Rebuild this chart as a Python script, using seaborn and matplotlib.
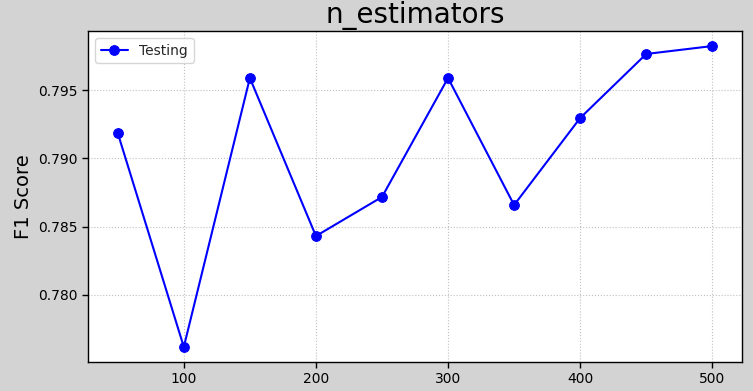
import matplotlib
matplotlib.use("Agg")
import matplotlib.pyplot as plt
import seaborn as sns
import pandas as pd

n_estimators = [50, 100, 150, 200, 250, 300, 350, 400, 450, 500]
f1_testing = [0.79185, 0.77619, 0.79588, 0.78431, 0.78717, 0.79588, 0.78658, 0.79295, 0.79764, 0.79822]

sns.set_theme(style="white")
plt.rcParams['font.family'] = ['DejaVu Sans']

df = pd.DataFrame({"n_estimators": n_estimators, "F1": f1_testing})

fig = plt.figure(figsize=(7.53, 3.91), dpi=100, facecolor="#d3d3d3")
ax = fig.add_axes([0.1169, 0.0742, 0.8685, 0.8465])
ax.set_facecolor("white")
sns.lineplot(data=df, x="n_estimators", y="F1", marker="o", color="blue",
             markersize=7, markeredgecolor="blue", linewidth=1.5, label="Testing", ax=ax)
ax.set_title("n_estimators", fontsize=20, color="black")
ax.set_xlabel("")
ax.set_ylabel("F1 Score", fontsize=14, color="black")
ax.set_xticks([100, 200, 300, 400, 500])
ax.set_yticks([0.780, 0.785, 0.790, 0.795])
ax.yaxis.set_major_formatter(matplotlib.ticker.FormatStrFormatter("%.3f"))
ax.tick_params(axis="both", direction="out", length=4, width=1, colors="black", labelsize=10,
               bottom=True, left=True)
ax.grid(True, linestyle=":", color="#c0c0c0", linewidth=0.8)
for s in ax.spines.values():
    s.set_color("black")
    s.set_linewidth(1)
ax.legend(loc="upper left", fontsize=10, frameon=True)
fig.savefig("out.png", dpi=100, facecolor=fig.get_facecolor())
